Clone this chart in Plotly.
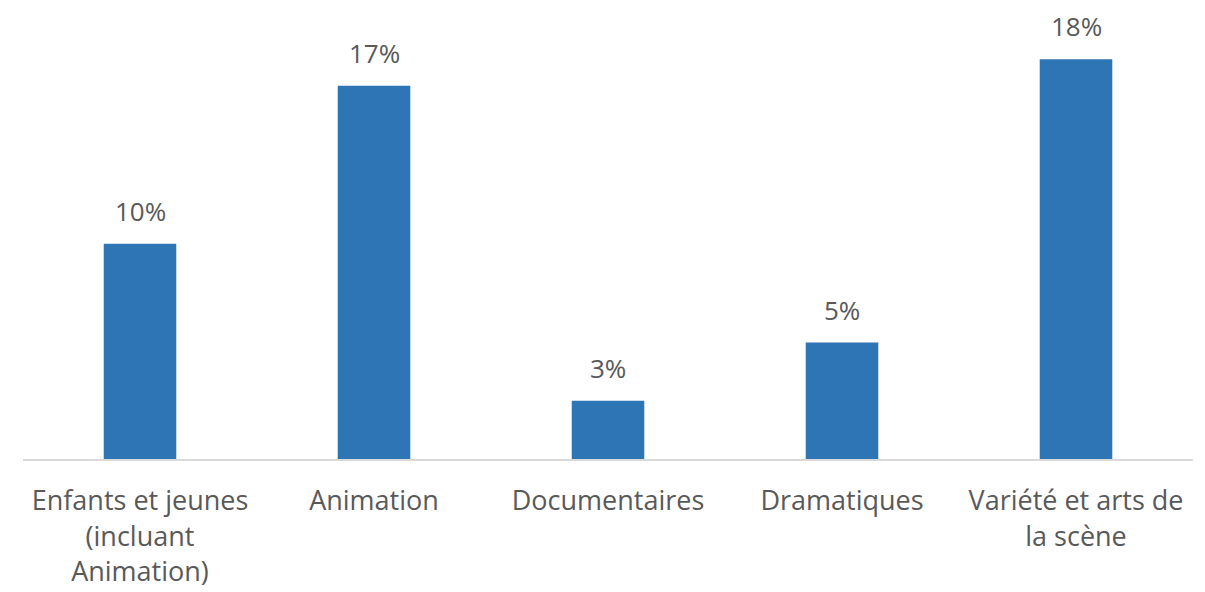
import plotly.graph_objects as go

categories = ["Enfants et jeunes<br>(incluant<br>Animation)", "Animation", "Documentaires", "Dramatiques", "Variété et arts de<br>la scène"]
values = [9.8, 17.0, 2.65, 5.3, 18.2]
labels = ["10%", "17%", "3%", "5%", "18%"]

fig = go.Figure()
fig.add_trace(go.Bar(
    x=categories, y=values,
    marker=dict(color="#2E75B6", line=dict(width=0)),
    width=0.31,
    hoverinfo="skip",
))

for c, v, t in zip(categories, values, labels):
    fig.add_annotation(x=c, y=v, text=t, showarrow=False, yanchor="bottom", yshift=13,
                       font=dict(family="Open Sans", size=26, color="#595959"))

fig.update_layout(
    width=1205, height=592,
    margin=dict(l=15, r=20, t=14, b=141),
    paper_bgcolor="white", plot_bgcolor="white",
    showlegend=False,
    font=dict(family="Open Sans", size=27, color="#595959"),
    xaxis=dict(showline=True, linecolor="#D9D9D9", linewidth=2, showgrid=False,
               ticks="outside", ticklen=17, tickcolor="rgba(0,0,0,0)",
               tickfont=dict(family="Open Sans", size=27, color="#595959"), fixedrange=True),
    yaxis=dict(range=[0, 19.9], visible=False, showgrid=False, fixedrange=True),
)

fig.write_html("out.html")
